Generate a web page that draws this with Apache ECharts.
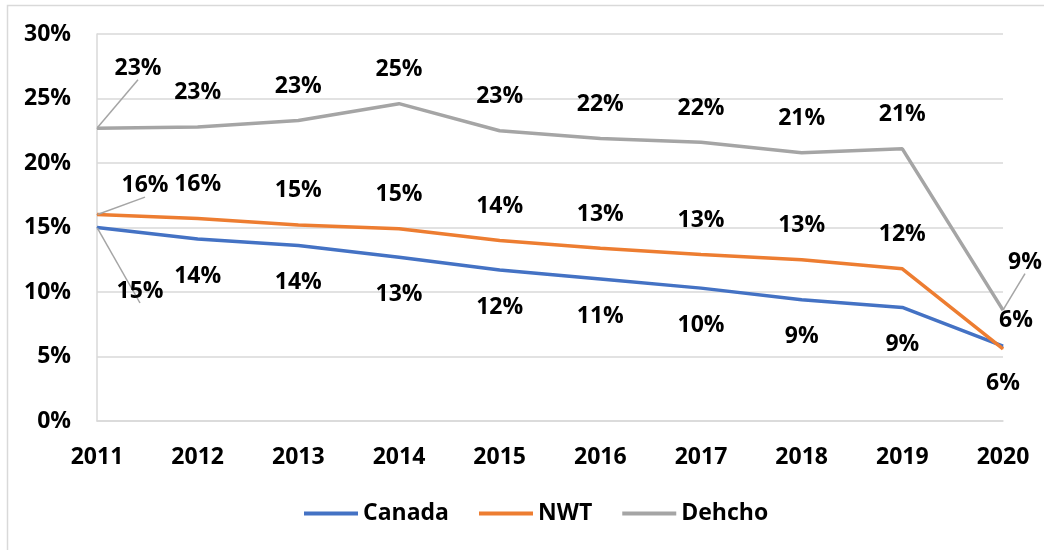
<!DOCTYPE html>
<html>
<head>
<meta charset="utf-8">
<script src="https://cdn.jsdelivr.net/npm/echarts@6/dist/echarts.min.js"></script>
<style>
html,body{margin:0;padding:0;background:#fff;}
#chart{width:1044px;height:550px;}
</style>
</head>
<body>
<div id="chart"></div>
<script>
const years = ['2011','2012','2013','2014','2015','2016','2017','2018','2019','2020'];
const canada = [15.0, 14.1, 13.6, 12.7, 11.7, 11.0, 10.3, 9.4, 8.8, 5.8];
const nwt    = [16.0, 15.7, 15.2, 14.9, 14.0, 13.4, 12.9, 12.5, 11.8, 5.6];
const dehcho = [22.7, 22.8, 23.3, 24.6, 22.5, 21.9, 21.6, 20.8, 21.1, 8.6];
const yTicks = [0, 5, 10, 15, 20, 25, 30];

const FONT = '"Open Sans", "Noto Sans", sans-serif';
const FS = 23;

function buildData(values, special) {
  return values.map((v, i) => {
    const item = { value: v };
    if (special[i]) {
      item.label = { offset: special[i].offset };
      if (special[i].line) item.labelLine = { show: true };
    }
    return item;
  });
}

const labelBase = {
  show: true,
  position: 'inside',
  color: '#000',
  fontFamily: FONT,
  fontWeight: 700,
  fontSize: FS,
  textBorderWidth: 0,
  formatter: p => Math.round(p.value) + '%'
};

function series(name, values, color, defOffset, special) {
  return {
    name: name,
    type: 'line',
    data: buildData(values, special),
    symbol: 'circle',
    symbolSize: 1,
    showSymbol: true,
    lineStyle: { color: color, width: 3.5 },
    itemStyle: { color: color },
    label: Object.assign({}, labelBase, { offset: defOffset }),
    labelLine: { show: false, lineStyle: { color: '#a5a5a5', width: 1.5 }, smooth: false },
    emphasis: { disabled: true },
    animation: false,
    z: 3
  };
}

const chart = echarts.init(document.getElementById('chart'), null, { renderer: 'canvas' });
chart.setOption({
  backgroundColor: '#fff',
  animation: false,
  graphic: [{
    type: 'rect',
    shape: { x: 7.5, y: 5.5, width: 1060, height: 570 },
    style: { fill: 'none', stroke: '#d9d9d9', lineWidth: 1.5 },
    silent: true, z: -10
  }],
  grid: { left: 97, right: 41, top: 34, bottom: 129, containLabel: false },
  legend: {
    top: 497,
    left: 299,
    itemWidth: 54,
    itemHeight: 4,
    itemGap: 30,
    icon: 'rect',
    textStyle: { fontFamily: FONT, fontWeight: 700, fontSize: 23, color: '#000' },
    data: ['Canada', 'NWT', 'Dehcho']
  },
  xAxis: {
    type: 'category',
    data: years,
    boundaryGap: false,
    axisLine: { show: true, lineStyle: { color: '#d9d9d9', width: 1.5 } },
    axisTick: { show: false },
    axisLabel: { fontFamily: FONT, fontWeight: 700, fontSize: FS, color: '#000', margin: 25 },
    splitLine: { show: false }
  },
  yAxis: {
    type: 'value',
    min: yTicks[0],
    max: yTicks[yTicks.length - 1],
    interval: 5,
    axisLine: { show: true, lineStyle: { color: '#d9d9d9', width: 1.5 } },
    axisTick: { show: false },
    axisLabel: { fontFamily: FONT, fontWeight: 700, fontSize: FS, color: '#000', margin: 26, formatter: v => v + '%' },
    splitLine: { show: true, lineStyle: { color: '#d9d9d9', width: 1.5 } }
  },
  series: [
    series('Canada', canada, '#4472C4', [0, 37], {
      0: { offset: [43, 64], line: true }
    }),
    series('NWT', nwt, '#ED7D31', [0, -34], {
      0: { offset: [48, -29], line: true },
      9: { offset: [13, -28] }
    }),
    series('Dehcho', dehcho, '#A5A5A5', [0, -34], {
      0: { offset: [41, -60], line: true },
      9: { offset: [22, -48], line: true }
    })
  ]
});
</script>
</body>
</html>
